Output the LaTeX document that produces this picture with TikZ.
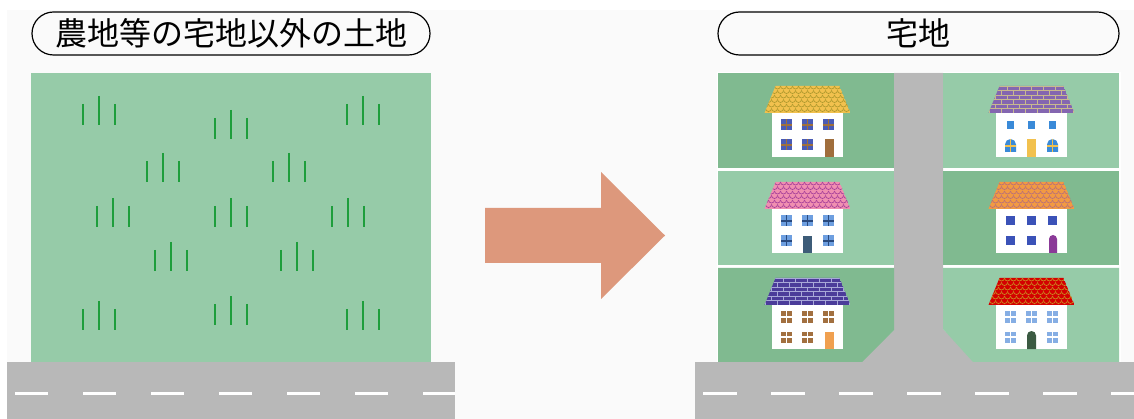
\documentclass[tikz,border=0pt]{standalone}
\usepackage{fontspec}
\newfontfamily\jp{Noto Sans CJK JP}
\definecolor{pagebg}{HTML}{FAFAFA}
\definecolor{fieldlight}{HTML}{96CBA8}
\definecolor{fielddark}{HTML}{80BA90}
\definecolor{grass}{HTML}{1E9E3C}
\definecolor{roadgray}{HTML}{B8B8B8}
\definecolor{arrowcol}{HTML}{DD987C}
% roofs
\definecolor{tileyellow}{HTML}{F2C14E}
\definecolor{lineyellow}{HTML}{B09A2E}
\definecolor{brickpurple}{HTML}{8466B0}
\definecolor{mortartan}{HTML}{C9B98E}
\definecolor{tilepink}{HTML}{F08FB0}
\definecolor{linepink}{HTML}{A8409A}
\definecolor{tileorange}{HTML}{F29A42}
\definecolor{lineorange}{HTML}{B8707A}
\definecolor{brickblue}{HTML}{4B3C9A}
\definecolor{mortarblue}{HTML}{A8A8D8}
\definecolor{tilered}{HTML}{D40000}
\definecolor{linered}{HTML}{C88A20}
% windows and doors
\definecolor{glassA}{HTML}{4A5BB5}
\definecolor{barbrown}{HTML}{A0703A}
\definecolor{doorbrown}{HTML}{A06E3C}
\definecolor{glassB}{HTML}{3A8AD8}
\definecolor{glassC}{HTML}{6E9FE0}
\definecolor{bardark}{HTML}{2A4A7E}
\definecolor{doorslate}{HTML}{3D5C78}
\definecolor{glassD}{HTML}{3B52B8}
\definecolor{doorpurple}{HTML}{8B3A98}
\definecolor{panebrown}{HTML}{A27040}
\definecolor{doororange}{HTML}{F0A050}
\definecolor{panelight}{HTML}{86AEE4}
\definecolor{doorgreen}{HTML}{3B5A42}

% roof outline for a house centred at #1 with roof top at #2
\newcommand\roofshape[2]{(#1-32,#2) -- (#1+32,#2) -- (#1+43,#2+27) -- (#1-43,#2+27) -- cycle}

% fish-scale tiled roof: centre, top, tile colour, scale line colour
\newcommand\scaleroof[4]{%
  \begin{scope}
    \clip \roofshape{#1}{#2};
    \fill[#3] \roofshape{#1}{#2};
    \foreach \j in {0,...,6} {
      \pgfmathsetmacro\rowy{#2+\j*4.5}
      \pgfmathsetmacro\rowoff{mod(\j,2)*3}
      \foreach \i in {-8,...,8} {
        \draw[#4, line width=0.7] ({#1+\i*6+\rowoff-3},\rowy) arc[start angle=180,end angle=0,radius=3];
      }
    }
  \end{scope}}

% brick roof: centre, top, brick colour, mortar colour
\newcommand\brickroof[4]{%
  \begin{scope}
    \clip \roofshape{#1}{#2};
    \fill[#3] \roofshape{#1}{#2};
    \foreach \j in {0,...,6} {
      \pgfmathsetmacro\rowy{#2+\j*4.5}
      \pgfmathsetmacro\rowoff{mod(\j,2)*6}
      \draw[#4, line width=0.8] (#1-50,\rowy) -- (#1+50,\rowy);
      \foreach \i in {-5,...,5} {
        \draw[#4, line width=0.8] ({#1+\i*12+\rowoff},\rowy) -- ({#1+\i*12+\rowoff},\rowy+4.5);
      }
    }
  \end{scope}}

% white house body below the roof
\newcommand\housebody[2]{\fill[white] (#1-35.5,#2+27) rectangle (#1+35.5,#2+71);}

% square window with glazing bars: x, y, size, glass colour, bar colour
\newcommand\crosswin[5]{%
  \fill[#4] ({#1-#3/2},{#2-#3/2}) rectangle ({#1+#3/2},{#2+#3/2});
  \draw[#5, line width=1.4] ({#1-#3/2},#2) -- ({#1+#3/2},#2) (#1,{#2-#3/2}) -- (#1,{#2+#3/2});}

% plain square window: x, y, size, colour
\newcommand\plainwin[4]{\fill[#4] ({#1-#3/2},{#2-#3/2}) rectangle ({#1+#3/2},{#2+#3/2});}

% round-headed shape: left x, right x, top y, bottom y, colour
\newcommand\archfill[5]{%
  \pgfmathsetmacro\archr{((#2)-(#1))/2}%
  \fill[#5] (#1,#4) -- (#1,{#3+\archr}) arc[start angle=180,end angle=360,radius=\archr] -- (#2,#4) -- cycle;}

% tuft of grass: centre x, base y
\newcommand\tuft[2]{%
  \draw[grass, line width=2] (#1-16,#2-21) -- (#1-16,#2) (#1,#2-29) -- (#1,#2) (#1+16,#2-21) -- (#1+16,#2);}

\begin{document}
\begin{tikzpicture}[x=1pt,y=-1pt,
  pill/.style={draw=black, line width=1.2, rounded corners=21.5pt, minimum height=43pt, inner sep=0pt,
    font=\jp\fontsize{32}{38}\selectfont},
  roadline/.style={white, line width=3}]
\useasboundingbox (0,0) rectangle (1134,419);
\fill[white] (0,0) rectangle (1134,419);
\fill[pagebg] (7,10) rectangle (1134,419);

% ---------- left: farmland ----------
\node[pill, minimum width=398pt] (farmtitle) at (231,33.5) {農地等の宅地以外の土地};
\fill[fieldlight] (31,73) rectangle (431,362);
\tuft{98.5}{125} \tuft{231}{139} \tuft{362.5}{125}
\tuft{163}{182} \tuft{289}{182}
\tuft{113}{227} \tuft{231}{227} \tuft{348}{227}
\tuft{171}{271} \tuft{297}{271}
\tuft{98.5}{330} \tuft{231}{325} \tuft{362.5}{330}
\fill[roadgray] (7,362) rectangle (455,419);
\foreach \k in {0,...,5} {\draw[roadline] ({15+\k*68},393.5) -- ({48+\k*68},393.5);}
\draw[roadline] (423,393.5) -- (455,393.5);

% ---------- arrow ----------
\fill[arrowcol] (485,208) -- (601,208) -- (601,172) -- (665,235.5) -- (601,299) -- (601,263) -- (485,263) -- cycle;

% ---------- right: residential lots ----------
\node[pill, minimum width=401pt] (lottitle) at (918.5,33.5) {宅地};
\fill[white] (716.5,72) rectangle (1120.5,362);
\fill[roadgray] (894,73) -- (943,73) -- (943,329) -- (976,362) -- (860,362) -- (894,330) -- cycle;
\fill[fielddark]  (718,73) rectangle (894,168);
\fill[fieldlight] (943,73) rectangle (1119,168);
\fill[fieldlight] (718,171) rectangle (894,265);
\fill[fielddark]  (943,171) rectangle (1119,265);
\fill[fielddark]  (718,268) -- (894,268) -- (894,330) -- (862,362) -- (718,362) -- cycle;
\fill[fieldlight] (943,268) -- (1119,268) -- (1119,362) -- (973,362) -- (943,329) -- cycle;
\fill[roadgray] (695,362) rectangle (1134,419);
\foreach \k in {0,...,5} {\draw[roadline] ({703+\k*68},393.5) -- ({737+\k*68},393.5);}
\draw[roadline] (1111,393.5) -- (1134,393.5);

% house 1: yellow scales
\def\cx{807.5}\def\ty{86}
\scaleroof{\cx}{\ty}{tileyellow}{lineyellow}
\housebody{\cx}{\ty}
\foreach \dx/\dy in {-21/39,0/39,21/39,-21/59,0/59} {\crosswin{\cx+\dx}{\ty+\dy}{11}{glassA}{barbrown}}
\fill[doorbrown] (\cx+17,\ty+53) rectangle (\cx+26,\ty+71);

% house 2: purple bricks
\def\cx{1031.5}\def\ty{86}
\brickroof{\cx}{\ty}{brickpurple}{mortartan}
\housebody{\cx}{\ty}
\foreach \dx in {-21,0,21} {\plainwin{\cx+\dx}{\ty+39}{7.5}{glassB}}
\foreach \dx in {-21,21} {
  \archfill{\cx+\dx-5.5}{\cx+\dx+5.5}{\ty+53}{\ty+66}{glassB}
  \draw[tileyellow, line width=1.4] (\cx+\dx-5.5,\ty+60) -- (\cx+\dx+5.5,\ty+60) (\cx+\dx,\ty+53) -- (\cx+\dx,\ty+66);
}
\fill[tileyellow] (\cx-4.5,\ty+53) rectangle (\cx+4.5,\ty+71);

% house 3: pink scales
\def\cx{807.5}\def\ty{182}
\scaleroof{\cx}{\ty}{tilepink}{linepink}
\housebody{\cx}{\ty}
\foreach \dx/\dy in {-21/39,0/39,21/39,-21/59,21/59} {\crosswin{\cx+\dx}{\ty+\dy}{11}{glassC}{bardark}}
\fill[doorslate] (\cx-4.5,\ty+54) rectangle (\cx+4.5,\ty+71);

% house 4: orange scales
\def\cx{1031.5}\def\ty{182}
\scaleroof{\cx}{\ty}{tileorange}{lineorange}
\housebody{\cx}{\ty}
\foreach \dx/\dy in {-21/39,0/39,21/39,-21/59,0/59} {\plainwin{\cx+\dx}{\ty+\dy}{9}{glassD}}
\archfill{\cx+17.5}{\cx+25.5}{\ty+53}{\ty+71}{doorpurple}

% house 5: dark blue bricks
\def\cx{807.5}\def\ty{278}
\brickroof{\cx}{\ty}{brickblue}{mortarblue}
\housebody{\cx}{\ty}
\foreach \dx/\dy in {-21/39,0/39,21/39,-21/59,0/59} {\crosswin{\cx+\dx}{\ty+\dy}{11}{panebrown}{white}}
\fill[doororange] (\cx+17,\ty+54) rectangle (\cx+26,\ty+71);

% house 6: red scales
\def\cx{1031.5}\def\ty{278}
\scaleroof{\cx}{\ty}{tilered}{linered}
\housebody{\cx}{\ty}
\foreach \dx/\dy in {-21/39,0/39,21/39,-21/59,21/59} {\crosswin{\cx+\dx}{\ty+\dy}{11}{panelight}{white}}
\archfill{\cx-4.5}{\cx+4.5}{\ty+53}{\ty+71}{doorgreen}
\end{tikzpicture}
\end{document}
